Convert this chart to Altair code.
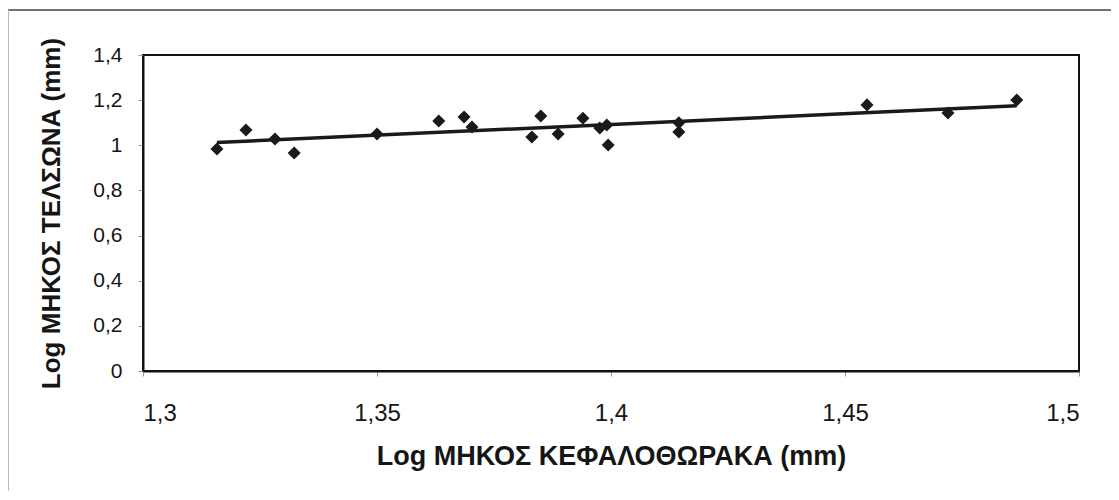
import altair as alt
import pandas as pd

log_cephalothorax = [1.3158, 1.3220, 1.3282, 1.3323, 1.3500, 1.3632, 1.3686, 1.3703,
                     1.3831, 1.3850, 1.3887, 1.3940, 1.3976, 1.3991, 1.3994, 1.4145,
                     1.4145, 1.4547, 1.4720, 1.4867]
log_telson = [0.984, 1.068, 1.028, 0.966, 1.050, 1.108, 1.125, 1.081,
              1.037, 1.130, 1.050, 1.120, 1.077, 1.090, 1.001, 1.059,
              1.100, 1.179, 1.143, 1.201]
x_ticks = [1.3, 1.35, 1.4, 1.45, 1.5]
y_ticks = [0, 0.2, 0.4, 0.6, 0.8, 1, 1.2, 1.4]

df = pd.DataFrame({"x": log_cephalothorax, "y": log_telson})

FONT = "Arial"
label_expr = "replace(format(datum.value, '~g'), '.', ',')"

x_enc = alt.X("x:Q", scale=alt.Scale(domain=[1.3, 1.5], nice=False, zero=False),
              axis=alt.Axis(values=x_ticks, labelExpr=label_expr, grid=False,
                            title="Log ΜΗΚΟΣ ΚΕΦΑΛΟΘΩΡΑΚΑ (mm)",
                            labelFontSize=24, titleFontSize=27,
                            tickSize=5, tickColor="#999999", domainColor="#111111",
                            domainWidth=2, labelPadding=25, titlePadding=18))
y_enc = alt.Y("y:Q", scale=alt.Scale(domain=[0, 1.4], nice=False),
              axis=alt.Axis(values=y_ticks, labelExpr=label_expr, grid=False,
                            title="Log ΜΗΚΟΣ ΤΕΛΣΩΝΑ (mm)",
                            labelFontSize=21, titleFontSize=26,
                            tickSize=5, tickColor="#999999", domainColor="#111111",
                            domainWidth=2, labelPadding=16, titlePadding=28))

base = alt.Chart(df)

points = base.mark_point(shape="diamond", filled=True, color="#1a1a1a",
                         size=170, opacity=1).encode(x=x_enc, y=y_enc)

line = base.transform_regression("x", "y").mark_line(
    color="#1a1a1a", strokeWidth=3.5).encode(x=x_enc, y=y_enc)

frame_df = pd.DataFrame({"k": [0]})
top_border = alt.Chart(frame_df).mark_rule(color="#444444", strokeWidth=1.5).encode(
    x=alt.value(-135), x2=alt.value(968), y=alt.value(-45))
left_border = alt.Chart(frame_df).mark_rule(color="#bbbbbb", strokeWidth=1).encode(
    x=alt.value(-134.5), y=alt.value(-45), y2=alt.value(436))

chart = alt.layer(top_border, left_border, points, line).properties(
    width=936, height=316,
    autosize=alt.AutoSizeParams(type="none"),
    padding={"left": 135, "top": 47, "right": 32, "bottom": 120},
).configure_view(
    stroke="#111111", strokeWidth=2
).configure_axis(
    labelFont=FONT, titleFont=FONT,
    labelColor="#151515", titleColor="#151515", titleFontWeight="bold"
)

chart.save("out.html", embed_options={"renderer": "svg", "actions": False})
